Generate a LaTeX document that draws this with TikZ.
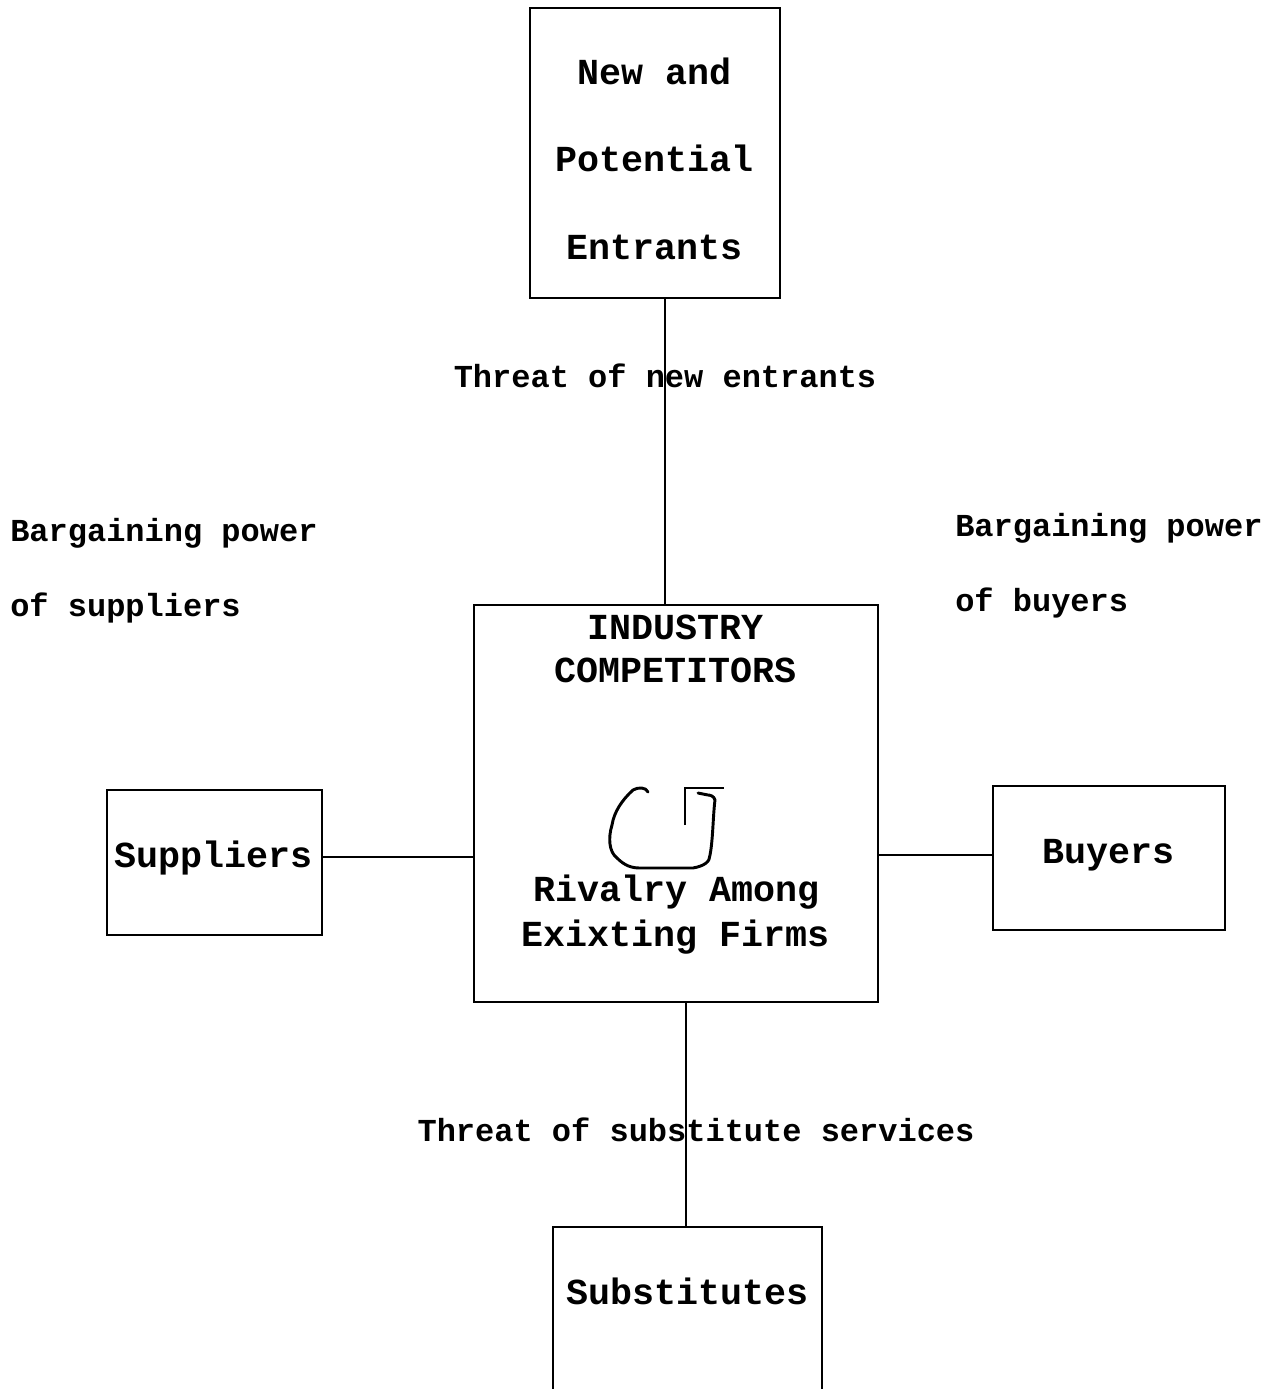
\documentclass[tikz,border=0pt]{standalone}
\usepackage{fontspec}
\newfontfamily\courfont{Liberation Mono}
\begin{document}
\begin{tikzpicture}[x=0.75pt,y=-0.75pt,
  box/.style={draw,line width=1.5pt,rectangle,inner sep=0pt},
  big/.style={inner sep=0pt,font=\courfont\bfseries\fontsize{27.5}{30}\selectfont,text height=0.62em,text depth=0.05em,yshift=-6pt},
  small/.style={inner sep=0pt,font=\courfont\bfseries\fontsize{24}{28}\selectfont,text height=0.62em,text depth=0.05em,yshift=-5.5pt},
  conn/.style={line width=1.5pt}]
\useasboundingbox (0,0) rectangle (1277,1389);
\clip (0,0) rectangle (1277,1389);
% boxes
\node[box,minimum width=187.5pt,minimum height=217.5pt] (top) at (655,153) {};
\node[box,minimum width=303pt,minimum height=297.75pt] (ctr) at (676,803.5) {};
\node[box,minimum width=161.25pt,minimum height=108.75pt] (sup) at (214.5,862.5) {};
\node[box,minimum width=174pt,minimum height=108pt] (buy) at (1109,858) {};
\node[box,minimum width=201.75pt,minimum height=159.75pt] (sub) at (687.5,1333.5) {};
% box texts
\node[big] (t1) at (655,73) {New and};
\node[big] (t2) at (655,160) {Potential};
\node[big] (t3) at (655,248) {Entrants};
\node[big] (c1) at (676,628) {INDUSTRY};
\node[big] (c2) at (676,671) {COMPETITORS};
\node[big] (c3) at (677,890) {Rivalry Among};
\node[big] (c4) at (676,935) {Exixting Firms};
\node[big] (s1) at (214,856) {Suppliers};
\node[big] (b1) at (1108,852) {Buyers};
\node[big] (u1) at (687.5,1293) {Substitutes};
% labels
\node[small] (l1) at (665,376) {Threat of new entrants};
\node[small,anchor=west] (l2) at (10,530) {Bargaining power};
\node[small,anchor=west] (l3) at (10,605) {of suppliers};
\node[small,anchor=west] (l4) at (955,525) {Bargaining power};
\node[small,anchor=west] (l5) at (955,600) {of buyers};
\node[small] (l6) at (696,1130) {Threat of substitute services};
% connectors
\draw[conn] ([xshift=7.5pt]top.south) -- ([xshift=7.5pt]top.south |- ctr.north);
\draw[conn] ([xshift=7.5pt]ctr.south) -- ([xshift=7.5pt]ctr.south |- sub.north);
\draw[conn] ([yshift=4pt]sup.east) -- ([yshift=4pt]ctr.west |- sup.east);
\draw[conn] ([yshift=2pt]buy.west) -- ([yshift=2pt]ctr.east |- buy.west);
% circular arrow glyph
\draw[line width=2.2pt,line join=round,line cap=round]
  (648,792) .. controls (646,787) and (638,787) .. (633,790)
  .. controls (622,800) and (614,812) .. (612,825)
  .. controls (608,838) and (609,852) .. (617,858)
  .. controls (625,866) and (632,868) .. (640,868)
  -- (693,868)
  .. controls (704,866) and (710,862) .. (710,855)
  .. controls (713,840) and (713,815) .. (715,800)
  .. controls (714,796) and (710,795) .. (708,795)
  -- (698,793);
\draw[line width=2.2pt] (685,825) -- (685,788) -- (724,788);
\end{tikzpicture}
\end{document}
